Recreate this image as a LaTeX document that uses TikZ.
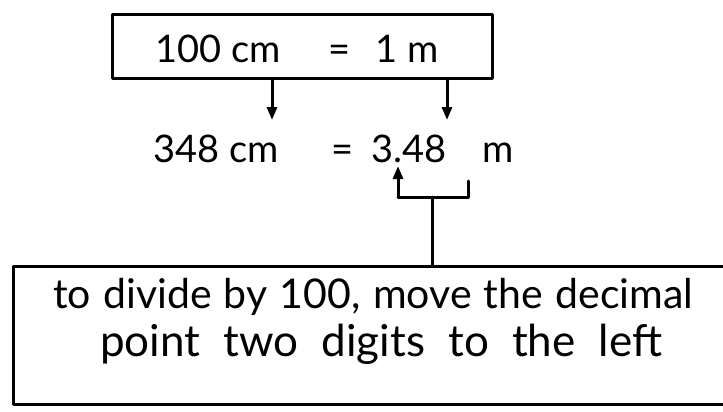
\documentclass[tikz,border=0pt]{standalone}
\usepackage{fontspec}
\setmainfont{Lato}
\usetikzlibrary{arrows.meta}
\begin{document}
\begin{tikzpicture}[x=1pt,y=-1pt,
  hand/.style={line width=3pt,line cap=round,line join=round},
  arr/.style={hand,-{Triangle[length=13pt,width=10pt]}},
  txt/.style={inner sep=0pt,anchor=base west},
  big/.style={font=\fontsize{38}{40}\selectfont},
  mid/.style={font=\fontsize{41}{44}\selectfont},
  mid2/.style={font=\fontsize{44}{46}\selectfont}]
\useasboundingbox (0,0) rectangle (723,412);
\node[hand,draw,minimum width=380,minimum height=64,inner sep=0pt] (top) at (302,47) {};
\node[txt,big] (a) at (155,63) {100 cm};
\node[txt,big] (a2) at (328,63) {=};
\node[txt,big] (a3) at (375,63) {1};
\node[txt,big] (a4) at (407,63) {m};
\node[txt,big] (c) at (153,162) {348 cm};
\node[txt,big] (eq) at (331,162) {=};
\node[txt,big] (d) at (371,162) {3.48};
\node[txt,big] (e) at (482,162) {m};
\coordinate (t1) at (272,79);
\coordinate (h1) at (272,120);
\coordinate (t2) at (447,79);
\coordinate (h2) at (447,120);
\draw[arr] (t1) -- (h1);
\draw[arr] (t2) -- (h2);
\coordinate (tip) at (398,166);
\coordinate (bl) at (398,197);
\coordinate (br) at (468,197);
\coordinate (brt) at (468,181);
\coordinate (mid) at (432,197);
\draw[hand] (brt) -- (br) -- (bl);
\draw[arr] (bl) -- (tip);
\node[hand,draw,minimum width=740,minimum height=138,inner sep=0pt,anchor=north west] (box) at (12,265) {};
\draw[hand] (mid) -- (mid |- box.north);
\node[txt,mid] (l1) at (53,308) {\makebox[640pt][s]{to divide by 100, move the decimal}};
\node[txt,mid2] (l2) at (100,356) {\makebox[562pt][s]{point two digits to the left}};
\end{tikzpicture}
\end{document}
